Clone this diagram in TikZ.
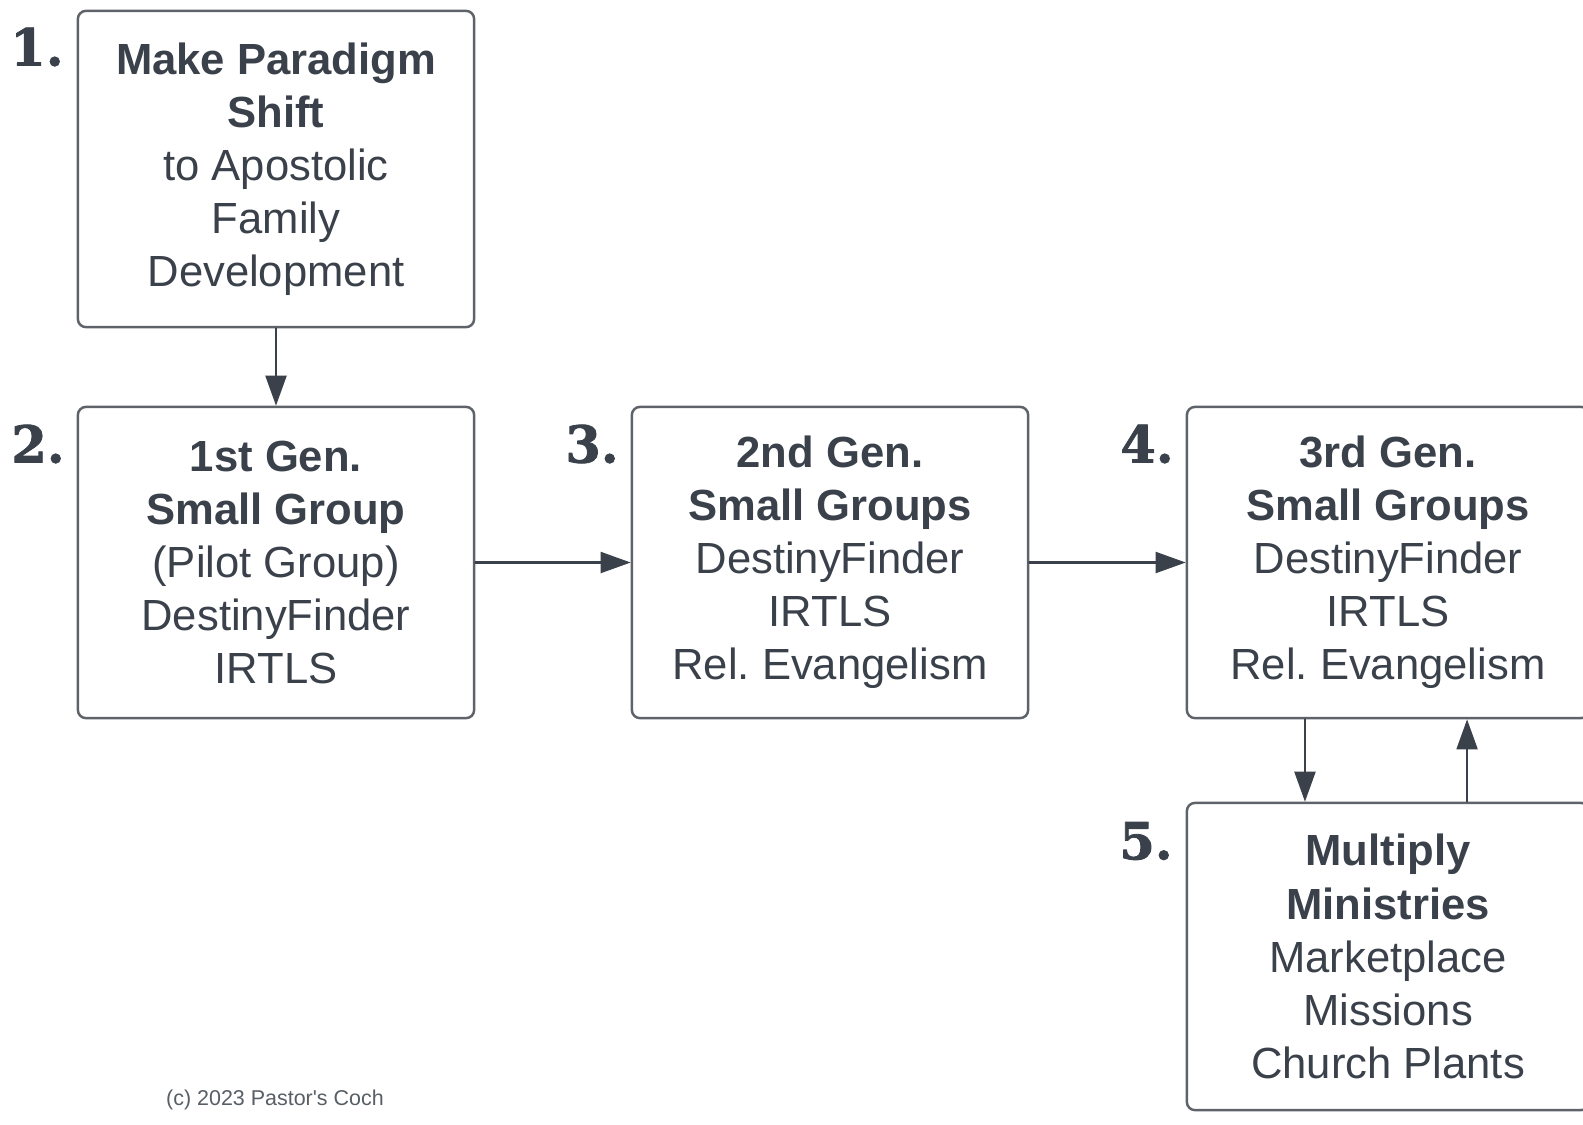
\documentclass[tikz,border=0pt]{standalone}
\usepackage{fontspec}
\setmainfont{Liberation Sans}
\newfontfamily\numfont[BoldFeatures={FakeBold=1.6}]{DejaVu Serif}
\usepackage{tikz}
\usetikzlibrary{arrows.meta}
\definecolor{ink}{HTML}{3A414A}
\definecolor{rim}{HTML}{5E6369}
\frenchspacing
\tikzstyle{stagebox}=[draw=rim, line width=0.7pt, rounded corners=0.08cm, text=ink, align=center, minimum width=3.96cm, font=\fontsize{12.4}{15.1}\selectfont]
\tikzstyle{stagenum}=[text=ink, font=\numfont\bfseries\fontsize{14.5}{14.5}\selectfont]
\tikzstyle{flow}=[->, draw=ink, line width=0.6pt]

\begin{document}
\begin{tikzpicture}[line cap=round,line join=round,>={Triangle[length=3mm,width=2.1mm]},x=0.01cm,y=-0.01cm]
\useasboundingbox (0,0) rectangle (1583,1124);
%boxes
\node[stagebox, minimum height=3.16cm] (b1) at (276,169) {\textbf{Make Paradigm}\\\textbf{Shift}\\to Apostolic\\Family\\Development};
\node[stagebox, minimum height=3.11cm] (b2) at (276,562.5) {\textbf{1st Gen.}\\\textbf{Small Group}\\(Pilot Group)\\DestinyFinder\\IRTLS};
\node[stagebox, minimum height=3.11cm] (b3) at (830,562.5) {\textbf{2nd Gen.}\\\textbf{Small Groups}\\DestinyFinder\\IRTLS\\Rel. Evangelism};
\node[stagebox, minimum height=3.11cm, minimum width=4.02cm] (b4) at (1388,562.5) {\textbf{3rd Gen.}\\\textbf{Small Groups}\\DestinyFinder\\IRTLS\\Rel. Evangelism};
\node[stagebox, minimum height=3.07cm, minimum width=4.02cm] (b5) at (1388,956.5) {\textbf{Multiply}\\\textbf{Ministries}\\Marketplace\\Missions\\Church Plants};
%numbers
\node[stagenum] (n1) at (37,47) {1.};
\node[stagenum] (n2) at (38,444) {2.};
\node[stagenum] (n3) at (592,444) {3.};
\node[stagenum] (n4) at (1147,444) {4.};
\node[stagenum] (n5) at (1146,841) {5.};
%arrows
\draw[flow] (b1.south) -- (b2.north);
\draw[flow] (b2.east) -- (b3.west);
\draw[flow] (b3.east) -- (b4.west);
\draw[flow] ([xshift=-0.83cm]b4.south) -- ([xshift=-0.83cm]b5.north);
\draw[flow] ([xshift=0.79cm]b5.north) -- ([xshift=0.79cm]b4.south);
\node[text=ink!85, font=\fontsize{6.1}{7}\selectfont] (copy) at (275,1100) {(c) 2023 Pastor\textquotesingle s Coch};
\end{tikzpicture}
\end{document}
